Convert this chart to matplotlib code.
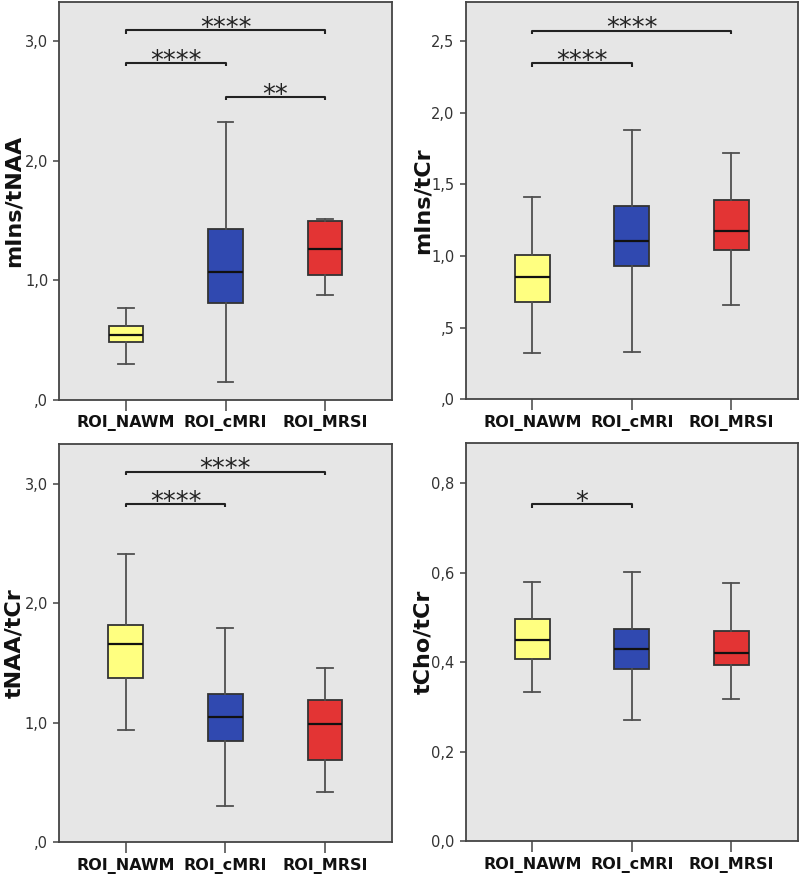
import matplotlib
matplotlib.use("Agg")
import matplotlib.pyplot as plt

# ---------------- data ----------------
categories = ["ROI_NAWM", "ROI_cMRI", "ROI_MRSI"]
box_colors = ["#ffff80", "#3049b0", "#e33434"]

# each panel: [whisker_low, Q1, median, Q3, whisker_high] per category
mins_tnaa = [
    [0.304, 0.483, 0.547, 0.622, 0.768],
    [0.153, 0.815, 1.072, 1.426, 2.322],
    [0.874, 1.041, 1.264, 1.499, 1.515],
]
mins_tcr = [
    [0.323, 0.679, 0.853, 1.009, 1.412],
    [0.333, 0.933, 1.105, 1.349, 1.881],
    [0.660, 1.042, 1.177, 1.388, 1.716],
]
tnaa_tcr = [
    [0.941, 1.379, 1.658, 1.820, 2.411],
    [0.304, 0.851, 1.052, 1.239, 1.792],
    [0.421, 0.687, 0.988, 1.195, 1.457],
]
tcho_tcr = [
    [0.334, 0.408, 0.450, 0.496, 0.578],
    [0.271, 0.384, 0.429, 0.473, 0.602],
    [0.317, 0.394, 0.421, 0.470, 0.577],
]

ylabels = ["mIns/tNAA", "mIns/tCr", "tNAA/tCr", "tCho/tCr"]
ytick_values = [
    [0.0, 1.0, 2.0, 3.0],
    [0.0, 0.5, 1.0, 1.5, 2.0, 2.5],
    [0.0, 1.0, 2.0, 3.0],
    [0.0, 0.2, 0.4, 0.6, 0.8],
]
ytick_labels = [
    [",0", "1,0", "2,0", "3,0"],
    [",0", ",5", "1,0", "1,5", "2,0", "2,5"],
    [",0", "1,0", "2,0", "3,0"],
    ["0,0", "0,2", "0,4", "0,6", "0,8"],
]
ymax = [3.33, 2.774, 3.335, 0.8886]

# significance brackets: (group i, group j, height, stars)
sig_mins_tnaa = [(0, 2, 3.09, "****"), (0, 1, 2.819, "****"), (1, 2, 2.534, "**")]
sig_mins_tcr = [(0, 2, 2.572, "****"), (0, 1, 2.344, "****")]
sig_tnaa_tcr = [(0, 2, 3.104, "****"), (0, 1, 2.830, "****")]
sig_tcho_tcr = [(0, 1, 0.752, "*")]

panels_data = [mins_tnaa, mins_tcr, tnaa_tcr, tcho_tcr]
panels_sig = [sig_mins_tnaa, sig_mins_tcr, sig_tnaa_tcr, sig_tcho_tcr]

# ---------------- figure ----------------
W, H = 800, 877
fig = plt.figure(figsize=(W / 100, H / 100), dpi=100)
fig.patch.set_facecolor("white")

# axes rectangles in pixels: left, top, right, bottom
rects_px = [
    (59.3, 1.7, 391.7, 400.0),
    (465.7, 1.7, 798.0, 399.3),
    (59.0, 444.0, 391.7, 842.3),
    (465.7, 443.3, 798.0, 841.3),
]
label_anchor_px = [24, 433, 24, 433]

positions = [1, 2, 3]
for k in range(4):
    l, t, r, b = rects_px[k]
    ax = fig.add_axes([l / W, 1 - b / H, (r - l) / W, (b - t) / H])
    ax.set_facecolor("#e6e6e6")
    data = panels_data[k]
    stats = []
    for i, d in enumerate(data):
        stats.append({
            "whislo": d[0], "q1": d[1], "med": d[2], "q3": d[3], "whishi": d[4],
            "fliers": [], "label": categories[i],
        })
    bp = ax.bxp(stats, positions=positions, widths=0.35, patch_artist=True,
                showfliers=False, capwidths=0.16,
                boxprops=dict(edgecolor="#333333", linewidth=1.3),
                whiskerprops=dict(color="#505050", linewidth=1.3),
                capprops=dict(color="#505050", linewidth=1.3),
                medianprops=dict(color="#111111", linewidth=1.6))
    for patch, c in zip(bp["boxes"], box_colors):
        patch.set_facecolor(c)

    ax.set_xlim(0.33, 3.67)
    ax.set_ylim(0, ymax[k])
    ax.set_yticks(ytick_values[k])
    ax.set_yticklabels(ytick_labels[k], fontsize=10.5, color="#333333")
    ax.set_xticks(positions)
    ax.set_xticklabels(categories, fontsize=11.5, fontweight="bold", color="#111111")
    ax.tick_params(axis="y", length=4, width=1.1, color="#444444", pad=4)
    ax.tick_params(axis="x", length=8, width=1.1, color="#444444", pad=3)
    for s in ax.spines.values():
        s.set_color("#444444")
        s.set_linewidth(1.3)
    ax.set_ylabel(ylabels[k], fontsize=16, fontweight="bold", color="#111111")
    ax.yaxis.set_label_coords((label_anchor_px[k] - l) / (r - l), 0.5)

    tick = 0.008 * ymax[k]
    for (i, j, h, stars) in panels_sig[k]:
        xi, xj = positions[i], positions[j]
        ax.plot([xi, xi, xj, xj], [h - tick, h, h, h - tick], color="#222222",
                linewidth=1.5, solid_capstyle="butt")
        ax.annotate(stars, xy=((xi + xj) / 2, h), xytext=(0, -4.2),
                    textcoords="offset points", ha="center", va="baseline",
                    fontsize=18.5, color="#222222")

fig.savefig("out.png", dpi=100, facecolor="white")
